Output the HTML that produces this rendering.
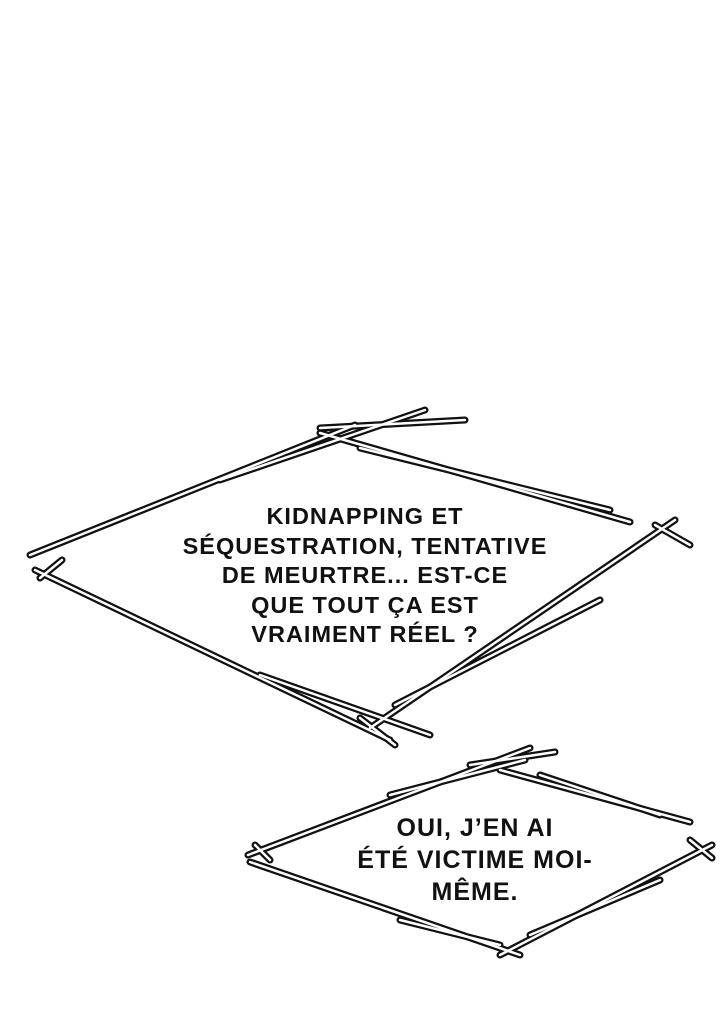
<!DOCTYPE html>
<html><head><style>
html,body{margin:0;padding:0;background:#fff;}
body{width:720px;height:1024px;position:relative;overflow:hidden;}
svg{position:absolute;left:0;top:0;}
.t{position:absolute;text-align:center;font-family:"Liberation Sans",sans-serif;font-weight:bold;color:#111;letter-spacing:1px;}
</style></head><body>
<svg width="720" height="1024" viewBox="0 0 720 1024">
<defs>
<g id="b1">
<path d="M30 555 L355 425"/><path d="M220 480 L425 410"/><path d="M320 428 L465 420"/>
<path d="M320 433 L630 522"/><path d="M360 448 L610 510"/>
<path d="M35 570 L390 740"/><path d="M260 675 L430 735"/>
<path d="M370 728 L675 520"/><path d="M395 705 L600 600"/>
<path d="M655 525 L690 545"/><path d="M360 718 L395 745"/><path d="M40 578 L62 560"/>
<path d="M248 855 L530 748"/><path d="M390 795 L525 760"/><path d="M470 765 L555 752"/>
<path d="M500 770 L690 822"/><path d="M540 775 L660 815"/>
<path d="M250 862 L520 955"/><path d="M400 920 L500 945"/>
<path d="M500 955 L712 845"/><path d="M530 935 L660 880"/>
<path d="M255 845 L270 860"/><path d="M690 840 L712 858"/>
</g>
</defs>
<g stroke-linecap="round" fill="none">
<use href="#b1" stroke="#111" stroke-width="7"/>
<use href="#b1" stroke="#fff" stroke-width="2.5"/>
</g>
</svg>
<div class="t" style="left:150px;top:502px;width:430px;font-size:23.5px;line-height:29.5px;">KIDNAPPING ET<br>SÉQUESTRATION, TENTATIVE<br>DE MEURTRE... EST-CE<br>QUE TOUT ÇA EST<br>VRAIMENT RÉEL ?</div>
<div class="t" style="left:340px;top:812px;width:270px;font-size:25px;line-height:32px;">OUI, J’EN AI<br>ÉTÉ VICTIME MOI-<br>MÊME.</div>
</body></html>
